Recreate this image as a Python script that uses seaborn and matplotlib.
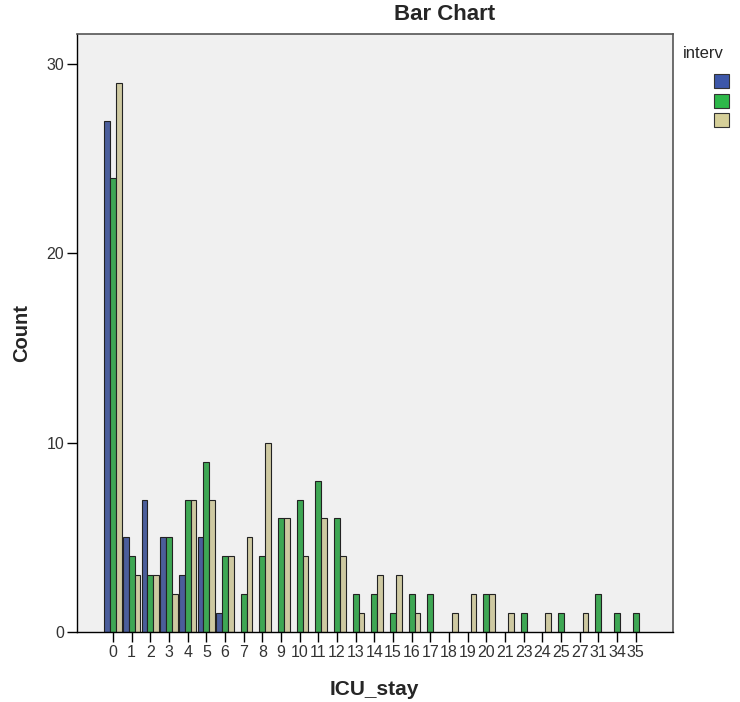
import numpy as np
import pandas as pd
import matplotlib
matplotlib.use("Agg")
import matplotlib.pyplot as plt
import seaborn as sns

# ICU stay categories (days) and counts per intervention group
icu_stay = [0, 1, 2, 3, 4, 5, 6, 7, 8, 9, 10, 11, 12, 13, 14, 15, 16, 17,
            18, 19, 20, 21, 23, 24, 25, 27, 31, 34, 35]
group_1 = [27, 5, 7, 5, 3, 5, 1, 0, 0, 0, 0, 0, 0, 0, 0, 0, 0, 0,
           0, 0, 0, 0, 0, 0, 0, 0, 0, 0, 0]
group_2 = [24, 4, 3, 5, 7, 9, 4, 2, 4, 6, 7, 8, 6, 2, 2, 1, 2, 2,
           0, 0, 2, 0, 1, 0, 1, 0, 2, 1, 1]
group_3 = [29, 3, 3, 2, 7, 7, 4, 5, 10, 6, 4, 6, 4, 1, 3, 3, 1, 0,
           1, 2, 2, 1, 0, 1, 0, 1, 0, 0, 0]
groups = ["1", "2", "3"]
colors = ["#3D57A9", "#2DB84A", "#D5CF99"]

df = pd.DataFrame({
    "ICU_stay": [str(v) for v in icu_stay] * 3,
    "interv": np.repeat(groups, len(icu_stay)),
    "Count": group_1 + group_2 + group_3,
})
df = df[df["Count"] > 0]

sns.set_style("white")
plt.rcParams["font.family"] = ["Liberation Sans", "DejaVu Sans"]

fig = plt.figure(figsize=(7.4, 7.02), dpi=100)
ax = fig.add_axes([0.1035, 0.0997, 0.806, 0.852])
ax.set_facecolor("#F0F0F0")

sns.barplot(data=df, x="ICU_stay", y="Count", hue="interv",
            order=[str(v) for v in icu_stay], hue_order=groups,
            palette=colors, width=0.92, edgecolor="#222222", linewidth=0.8,
            legend=False, ax=ax)

ax.set_xlim(-1.95, 30.0)
ax.set_ylim(0, 31.6)
ax.set_yticks([0, 10, 20, 30])
ax.tick_params(axis="both", direction="out", length=7, width=1,
               colors="black", labelsize=11.5, labelcolor="#333333",
               bottom=True, left=True)
ax.tick_params(axis="x", pad=2)
ax.tick_params(axis="y", pad=2)

for side in ["top", "right"]:
    ax.spines[side].set_color("#555555")
    ax.spines[side].set_linewidth(1.2)
for side in ["left", "bottom"]:
    ax.spines[side].set_color("black")
    ax.spines[side].set_linewidth(1)

ax.set_xlabel("ICU_stay", fontsize=15, fontweight="bold", labelpad=15)
ax.set_ylabel("Count", fontsize=14.5, fontweight="bold", labelpad=11)
fig.text(0.601, 0.979, "Bar Chart", ha="center", va="center",
         fontsize=16, fontweight="bold")

# legend (cut off at the right edge in the original)
fig.text(0.923, 0.924, "interv", ha="left", va="center", fontsize=12)
for i, c in enumerate(colors):
    y = 0.874 - i * 0.0275
    fig.patches.append(plt.Rectangle((0.965, y), 0.02, 0.02,
                                     transform=fig.transFigure,
                                     facecolor=c, edgecolor="#333333",
                                     linewidth=0.8, figure=fig))

fig.savefig("out.png", dpi=100)
